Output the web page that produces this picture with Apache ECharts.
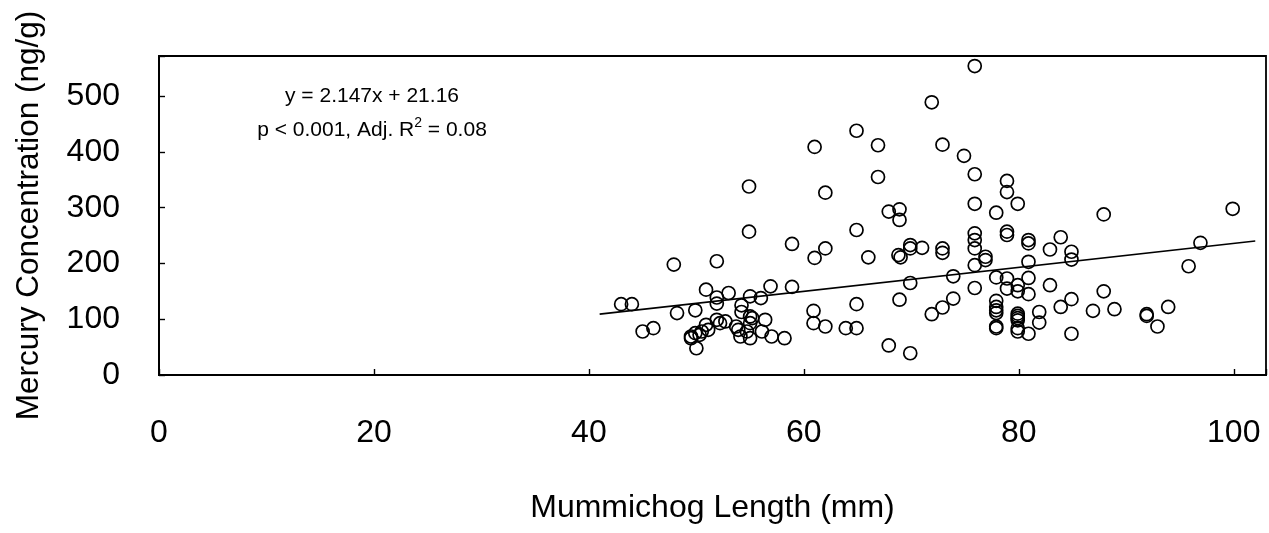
<!DOCTYPE html>
<html>
<head>
<meta charset="utf-8">
<script src="https://cdn.jsdelivr.net/npm/echarts@6/dist/echarts.min.js"></script>
<style>
  html, body { margin: 0; padding: 0; background: #fff; overflow: hidden; }
  #chart { width: 1269px; height: 533px; }
</style>
</head>
<body>
<div id="chart"></div>
<script>
// fish length (mm) and whole-body mercury (ng/g), one entry per fish
const lengthMm = [
  75.9, 71.9, 64.9, 61.0, 66.9, 72.9, 74.9, 75.9, 66.9, 78.9,
  54.9, 62.0, 78.9, 79.9, 75.9, 68.9, 67.9, 77.9, 87.9, 99.9,
  68.9, 64.9, 54.9, 75.9, 78.9, 78.9, 83.9, 75.9, 80.9, 80.9,
  96.9, 58.9, 69.9, 69.9, 71.0, 72.9, 72.9, 75.9, 62.0, 82.9,
  84.9, 68.8, 69.0, 66.0, 61.0, 76.9, 76.9, 84.9, 80.9, 51.9,
  47.9, 75.9, 95.8, 73.9, 77.9, 78.9, 80.9, 69.9, 79.9, 82.9,
  56.9, 58.9, 75.9, 78.9, 50.9, 79.9, 87.9, 53.0, 80.9, 55.0,
  56.0, 51.9, 73.9, 84.9, 68.9, 77.9, 51.9, 64.9, 43.0, 44.0,
  54.2, 77.9, 83.9, 93.9, 72.9, 88.9, 49.9, 77.9, 60.9, 86.9,
  54.2, 81.9, 48.2, 77.9, 79.9, 71.9, 91.9, 91.9, 79.9, 55.0,
  79.9, 55.2, 56.4, 51.9, 79.9, 52.2, 60.9, 81.9, 55.0, 50.9,
  62.0, 92.9, 53.7, 77.9, 46.0, 63.9, 64.9, 77.9, 79.9, 51.1,
  53.9, 45.0, 50.5, 54.7, 56.1, 79.9, 49.9, 80.9, 84.9, 49.5,
  54.1, 57.0, 49.5, 55.0, 58.2, 50.0, 67.9, 69.9, 50.3, 52.7
];
const mercuryNgG = [
  554, 489, 438, 409, 412, 413, 393, 360, 355, 348,
  338, 327, 328, 307, 307, 297, 293, 291, 288, 298,
  278, 260, 257, 254, 257, 251, 247, 242, 242, 236,
  237, 235, 233, 227, 228, 227, 219, 227, 227, 225,
  221, 215, 211, 211, 210, 212, 206, 207, 203, 204,
  198, 197, 195, 177, 175, 173, 174, 165, 161, 161,
  159, 158, 156, 155, 153, 150, 150, 147, 145, 141,
  138, 139, 137, 136, 135, 133, 128, 127, 127, 127,
  125, 122, 122, 122, 121, 118, 116, 116, 115, 115,
  113, 113, 111, 111, 110, 109, 109, 106, 106, 105,
  102, 102, 99, 99, 98, 93, 93, 94, 93, 90,
  87, 87, 87, 87, 84, 84, 84, 84, 84, 81,
  81, 78, 78, 78, 78, 78, 75, 74, 74, 69,
  69, 69, 66, 66, 66, 48, 53, 39, 72, 96
];

// least-squares fit, drawn over the span it was fitted to
const fitSlope = 2.147;
const fitIntercept = 21.16;
const fitSpan = [41, 102];

const xTickValues = [0, 20, 40, 60, 80, 100];
const yTickValues = [0, 100, 200, 300, 400, 500];
const xRange = [0, 103];
const yRange = [0, 572];

const fitLabel = 'y = ' + fitSlope + 'x + ' + fitIntercept;
const statsLabel = ['p < 0.001, Adj. R', '2', ' = 0.08'];

const points = lengthMm.map((x, i) => [x, mercuryNgG[i]]);
const fitLine = fitSpan.map(x => [x, fitSlope * x + fitIntercept]);

const FONT = '"Liberation Sans", Arial, sans-serif';
const chart = echarts.init(document.getElementById('chart'));

chart.setOption({
  backgroundColor: '#fff',
  animation: false,
  textStyle: { fontFamily: FONT, color: '#000' },
  grid: {
    left: 159, right: 3, top: 56, bottom: 158,
    show: true, borderColor: '#000', borderWidth: 1.8, backgroundColor: 'transparent'
  },
  xAxis: {
    type: 'value', min: xRange[0], max: xRange[1], interval: 20,
    name: 'Mummichog Length (mm)', nameLocation: 'middle', nameGap: 117,
    nameTextStyle: { fontSize: 32, color: '#000', fontFamily: FONT },
    axisLine: { lineStyle: { color: '#000', width: 2 } },
    axisTick: { inside: true, length: 6, lineStyle: { color: '#000', width: 1.4 } },
    axisLabel: {
      color: '#000', fontSize: 32, fontFamily: FONT, margin: 42,
      formatter: v => xTickValues.includes(v) ? String(v) : ''
    },
    splitLine: { show: false }
  },
  yAxis: {
    type: 'value', min: yRange[0], max: yRange[1], interval: 100,
    name: 'Mercury Concentration (ng/g)', nameLocation: 'middle', nameRotate: 90, nameGap: 114,
    nameTextStyle: { fontSize: 31.5, color: '#000', fontFamily: FONT },
    axisLine: { lineStyle: { color: '#000', width: 2 } },
    axisTick: { inside: true, length: 6, lineStyle: { color: '#000', width: 1.4 } },
    axisLabel: {
      color: '#000', fontSize: 32, fontFamily: FONT, margin: 39,
      formatter: v => yTickValues.includes(v) ? String(v) : ''
    },
    splitLine: { show: false }
  },
  series: [
    {
      type: 'scatter',
      data: points,
      symbol: 'circle',
      symbolSize: 13,
      itemStyle: { color: 'transparent', borderColor: '#000', borderWidth: 1.7, opacity: 1 },
      z: 3
    },
    {
      type: 'line',
      data: fitLine,
      symbol: 'none',
      lineStyle: { color: '#000', width: 1.6 },
      z: 2
    }
  ],
  graphic: [
    {
      type: 'text', x: 372, y: 96, z: 10,
      style: { text: fitLabel, font: '21px ' + FONT, fill: '#000', align: 'center', verticalAlign: 'middle' }
    },
    {
      type: 'text', x: 372, y: 130, z: 10,
      style: {
        text: '{b|' + statsLabel[0] + '}{sup|' + statsLabel[1] + '}{b|' + statsLabel[2] + '}',
        align: 'center', verticalAlign: 'middle',
        rich: {
          b: { fontSize: 21, fontFamily: FONT, color: '#000' },
          sup: { fontSize: 14, fontFamily: FONT, color: '#000', padding: [0, 0, 14, 0] }
        }
      }
    }
  ]
});
</script>
</body>
</html>
